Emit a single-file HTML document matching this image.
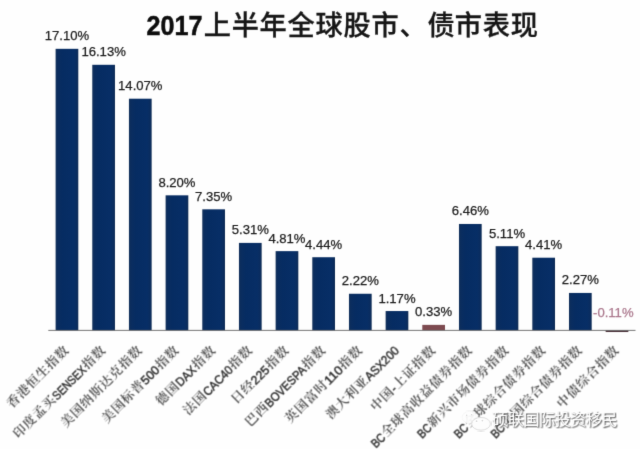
<!DOCTYPE html>
<html lang="zh-CN">
<head>
<meta charset="utf-8">
<title>2017上半年全球股市、债市表现</title>
<style>
html,body{margin:0;padding:0;background:#fff;}
body{width:640px;height:449px;overflow:hidden;}
svg{display:block;}
.t{font-family:"Liberation Sans","Noto Sans CJK SC",sans-serif;}
.v{font-family:"Liberation Sans",sans-serif;font-size:13.1px;fill:#1c1c1c;stroke:#1c1c1c;stroke-width:0.25px;text-anchor:middle;}
.c{font-family:"Liberation Sans","Noto Serif CJK SC",serif;font-size:12.9px;letter-spacing:0.75px;font-weight:600;fill:#464646;}
.l{font-family:"Liberation Sans",sans-serif;font-size:12.4px;fill:#262626;stroke:#262626;stroke-width:0.38px;}
</style>
</head>
<body>
<svg width="640" height="449" viewBox="0 0 640 449">
<defs>
<filter id="b" x="-5%" y="-5%" width="110%" height="110%" color-interpolation-filters="sRGB"><feConvolveMatrix order="3" kernelMatrix="0.01 0.08 0.01 0.08 0.64 0.08 0.01 0.08 0.01" edgeMode="duplicate" preserveAlpha="false"/></filter>
<filter id="b2" x="-5%" y="-5%" width="110%" height="110%" color-interpolation-filters="sRGB"><feConvolveMatrix order="3" kernelMatrix="0.0225 0.1275 0.0225 0.1275 0.4 0.1275 0.0225 0.1275 0.0225" edgeMode="duplicate" preserveAlpha="false"/></filter>
<filter id="ws" x="-10%" y="-30%" width="120%" height="160%" color-interpolation-filters="sRGB"><feOffset in="SourceAlpha" dx="1.3" dy="1.3" result="off"/><feConvolveMatrix in="off" order="3" kernelMatrix="0.0625 0.125 0.0625 0.125 0.25 0.125 0.0625 0.125 0.0625" edgeMode="none" preserveAlpha="false" result="blur"/><feFlood flood-color="#484848" result="col"/><feComposite in="col" in2="blur" operator="in" result="shadow"/><feConvolveMatrix in="SourceGraphic" order="3" kernelMatrix="0.01 0.08 0.01 0.08 0.64 0.08 0.01 0.08 0.01" edgeMode="none" preserveAlpha="false" result="src"/><feMerge><feMergeNode in="shadow"/><feMergeNode in="src"/></feMerge></filter>
<linearGradient id="nv" x1="0" y1="0" x2="1" y2="0"><stop offset="0" stop-color="#12305a"/><stop offset="0.1" stop-color="#0a2d5f"/><stop offset="0.3" stop-color="#062c62"/><stop offset="0.8" stop-color="#072e66"/><stop offset="0.92" stop-color="#0a2d60"/><stop offset="1" stop-color="#0c2952"/></linearGradient>
</defs>
<rect width="640" height="449" fill="#fefefe"/>
<g filter="url(#b)">
<text class="t"><tspan x="146.4" y="35" font-size="27" font-weight="700" fill="#0d0d0d" stroke="#0d0d0d" stroke-width="0.5" textLength="56" lengthAdjust="spacingAndGlyphs">2017</tspan><tspan font-size="27.2" font-weight="500" fill="#161616" stroke="#161616" stroke-width="0.3" y="35.2" x="203.7 231.7 259.6 287.6 315.6 343.6 371.6 399.6 427.6 454.8 482.8 510.8">上半年全球股市、债市表现</tspan></text>
<rect x="55.60" y="48.83" width="22.70" height="281.47" fill="url(#nv)"/>
<rect x="92.27" y="64.80" width="22.70" height="265.50" fill="url(#nv)"/>
<rect x="128.94" y="98.71" width="22.70" height="231.59" fill="url(#nv)"/>
<rect x="165.61" y="195.33" width="22.70" height="134.97" fill="url(#nv)"/>
<rect x="202.28" y="209.32" width="22.70" height="120.98" fill="url(#nv)"/>
<rect x="238.95" y="242.90" width="22.70" height="87.40" fill="url(#nv)"/>
<rect x="275.62" y="251.13" width="22.70" height="79.17" fill="url(#nv)"/>
<rect x="312.29" y="257.22" width="22.70" height="73.08" fill="url(#nv)"/>
<rect x="348.96" y="293.76" width="22.70" height="36.54" fill="url(#nv)"/>
<rect x="385.63" y="311.04" width="22.70" height="19.26" fill="url(#nv)"/>
<rect x="422.30" y="324.87" width="22.70" height="5.43" fill="#7d4a50"/>
<rect x="458.97" y="223.97" width="22.70" height="106.33" fill="url(#nv)"/>
<rect x="495.64" y="246.19" width="22.70" height="84.11" fill="url(#nv)"/>
<rect x="532.31" y="257.71" width="22.70" height="72.59" fill="url(#nv)"/>
<rect x="568.98" y="292.94" width="22.70" height="37.36" fill="url(#nv)"/>
<rect x="605.65" y="330.40" width="22.70" height="1.61" fill="#4a3038"/>
<rect x="48.3" y="329.90" width="587.2" height="0.9" fill="#666"/>
<text class="v" x="66.95" y="40.33">17.10%</text>
<text class="v" x="103.62" y="56.30">16.13%</text>
<text class="v" x="140.29" y="90.21">14.07%</text>
<text class="v" x="176.96" y="186.83">8.20%</text>
<text class="v" x="213.63" y="200.82">7.35%</text>
<text class="v" x="250.30" y="234.40">5.31%</text>
<text class="v" x="286.97" y="242.63">4.81%</text>
<text class="v" x="323.64" y="248.72">4.44%</text>
<text class="v" x="360.31" y="285.26">2.22%</text>
<text class="v" x="396.98" y="302.54">1.17%</text>
<text class="v" x="433.65" y="316.37">0.33%</text>
<text class="v" x="470.32" y="215.47">6.46%</text>
<text class="v" x="506.99" y="237.69">5.11%</text>
<text class="v" x="543.66" y="249.21">4.41%</text>
<text class="v" x="580.33" y="284.44">2.27%</text>
<text class="v" x="613.30" y="317.00" style="fill:#ab788d;stroke:#ab788d">-0.11%</text>
</g>
<g filter="url(#b2)">
<g transform="translate(69.95 351.30) rotate(-45)"><text class="c" x="-81.53" y="-0.4">香港恒生指数</text></g>
<g transform="translate(106.62 351.30) rotate(-45)"><text class="c" x="-124.35" y="-0.4">印度孟买</text><text class="l" x="-69.83" y="0" textLength="42.23" lengthAdjust="spacingAndGlyphs">SENSEX</text><text class="c" x="-26.93" y="-0.4">指数</text></g>
<g transform="translate(143.29 351.30) rotate(-45)"><text class="c" x="-108.83" y="-0.4">美国纳斯达克指数</text></g>
<g transform="translate(179.96 351.30) rotate(-45)"><text class="c" x="-102.82" y="-0.4">美国标普</text><text class="l" x="-48.29" y="0" textLength="20.69" lengthAdjust="spacingAndGlyphs">500</text><text class="c" x="-26.93" y="-0.4">指数</text></g>
<g transform="translate(216.63 351.30) rotate(-45)"><text class="c" x="-78.21" y="-0.4">德国</text><text class="l" x="-50.98" y="0" textLength="23.38" lengthAdjust="spacingAndGlyphs">DAX</text><text class="c" x="-26.92" y="-0.4">指数</text></g>
<g transform="translate(253.30 351.30) rotate(-45)"><text class="c" x="-91.45" y="-0.4">法国</text><text class="l" x="-64.23" y="0" textLength="36.63" lengthAdjust="spacingAndGlyphs">CAC40</text><text class="c" x="-26.92" y="-0.4">指数</text></g>
<g transform="translate(289.97 351.30) rotate(-45)"><text class="c" x="-75.52" y="-0.4">日经</text><text class="l" x="-48.29" y="0" textLength="20.69" lengthAdjust="spacingAndGlyphs">225</text><text class="c" x="-26.93" y="-0.4">指数</text></g>
<g transform="translate(326.64 351.30) rotate(-45)"><text class="c" x="-107.65" y="-0.4">巴西</text><text class="l" x="-80.42" y="0" textLength="52.82" lengthAdjust="spacingAndGlyphs">BOVESPA</text><text class="c" x="-26.93" y="-0.4">指数</text></g>
<g transform="translate(363.31 351.30) rotate(-45)"><text class="c" x="-102.82" y="-0.4">英国富时</text><text class="l" x="-48.29" y="0" textLength="20.69" lengthAdjust="spacingAndGlyphs">110</text><text class="c" x="-26.93" y="-0.4">指数</text></g>
<g transform="translate(399.98 351.30) rotate(-45)"><text class="c" x="-97.32" y="-0.4">澳大利亚</text><text class="l" x="-42.79" y="0" textLength="42.49" lengthAdjust="spacingAndGlyphs">ASX200</text></g>
<g transform="translate(436.65 351.30) rotate(-45)"><text class="c" x="-85.81" y="-0.4">中国</text><text class="l" x="-58.58" y="0" textLength="3.68" lengthAdjust="spacingAndGlyphs">-</text><text class="c" x="-54.23" y="-0.4">上证指数</text></g>
<g transform="translate(473.32 351.30) rotate(-45)"><text class="l" x="-137.63" y="0" textLength="14.48" lengthAdjust="spacingAndGlyphs">BC</text><text class="c" x="-122.47" y="-0.4">全球高收益债券指数</text></g>
<g transform="translate(509.99 351.30) rotate(-45)"><text class="l" x="-123.98" y="0" textLength="14.48" lengthAdjust="spacingAndGlyphs">BC</text><text class="c" x="-108.83" y="-0.4">新兴市场债券指数</text></g>
<g transform="translate(546.66 351.30) rotate(-45)"><text class="l" x="-123.98" y="0" textLength="14.48" lengthAdjust="spacingAndGlyphs">BC</text><text class="c" x="-108.83" y="-0.4">全球综合债券指数</text></g>
<g transform="translate(583.33 351.30) rotate(-45)"><text class="l" x="-123.98" y="0" textLength="14.48" lengthAdjust="spacingAndGlyphs">BC</text><text class="c" x="-108.83" y="-0.4">美国综合债券指数</text></g>
<g transform="translate(620.00 351.30) rotate(-45)"><text class="c" x="-81.53" y="-0.4">中债综合指数</text></g>
</g>
<g id="wm">
<g fill="#fdfdfd" stroke="#d2d2d2" stroke-width="0.6" filter="url(#b)"><ellipse cx="469.2" cy="417.4" rx="7" ry="6" fill-opacity="0.92" stroke-opacity="0.25"/><ellipse cx="481" cy="423.8" rx="9.4" ry="6.4" stroke="#c6c6c6"/></g>
<g fill="#e0e0e0"><circle cx="466.6" cy="415.2" r="0.8"/><circle cx="471.6" cy="414.8" r="0.8"/><circle cx="476.6" cy="421.2" r="0.9"/><circle cx="482.4" cy="420.6" r="0.9"/></g>
<text class="t" x="492.1" y="425" font-size="16.4" fill="#ffffff" filter="url(#ws)" textLength="125.6" lengthAdjust="spacing" font-weight="400">硕联国际投资移民</text>
</g>
</svg>
</body>
</html>
